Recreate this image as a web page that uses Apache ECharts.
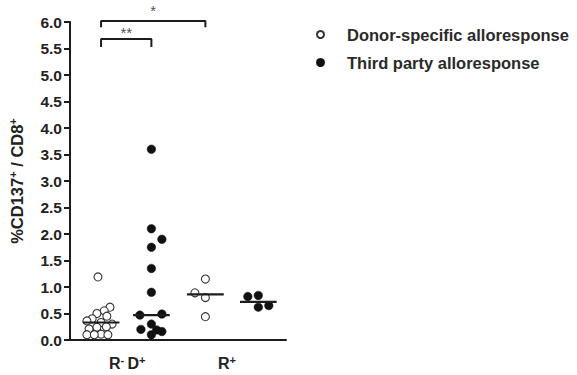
<!DOCTYPE html>
<html>
<head>
<meta charset="utf-8">
<style>
html,body{margin:0;padding:0;background:#fff;}
#chart{width:577px;height:375px;}
</style>
<script src="https://cdn.jsdelivr.net/npm/echarts@6/dist/echarts.min.js"></script>
</head>
<body>
<div id="chart"></div>
<script>
// ---- data ----
const seriesNames = ['Donor-specific alloresponse', 'Third party alloresponse'];
// group positions on the x axis (1 unit = spacing between groups)
const groupX = [1, 1.96, 2.99, 4];
// which series each group belongs to (0 = donor-specific, 1 = third party)
const groupSeries = [0, 1, 0, 1];
// values per group, with horizontal jitter offsets (in group units)
const g1Values = [1.19, 0.62, 0.55, 0.50, 0.45, 0.40, 0.36, 0.33, 0.30, 0.25, 0.24, 0.21, 0.11, 0.10, 0.10, 0.10];
const g1Jitter = [-0.06, 0.17, 0.06, -0.08, 0.11, -0.17, -0.27, 0, 0.21, 0.10, -0.08, -0.23, 0, -0.27, -0.13, 0.13];
const g2Values = [3.6, 2.1, 1.9, 1.75, 1.35, 0.9, 0.47, 0.49, 0.30, 0.20, 0.19, 0.16, 0.10];
const g2Jitter = [0, 0, 0.2, 0, 0, 0, -0.22, 0.2, 0, -0.2, 0.1, 0.2, 0];
const g3Values = [1.15, 0.89, 0.80, 0.44];
const g3Jitter = [0, -0.2, 0, 0];
const g4Values = [0.82, 0.84, 0.62, 0.65];
const g4Jitter = [-0.2, 0, 0, 0.2];
const medians = [0.33, 0.47, 0.86, 0.72];
const medianHalfWidth = 0.35;
// x axis group labels and their positions
const xLabelPos = [1.5, 3.4];
const xLabels = ['{b|R}{sup|-} {b|D}{sup|+}', '{b|R}{sup|+}'];
// y axis ticks
const yMin = 0, yMax = 6, yInterval = 0.5;
// significance brackets
const brackets = [
  {from: 0, to: 1, y: 5.68, leg: 0.15, text: '**', textY: 5.80},
  {from: 0, to: 2, y: 6.02, leg: 0.12, text: '*', textY: 6.22}
];

const groupValues = [g1Values, g2Values, g3Values, g4Values];
const groupJitter = [g1Jitter, g2Jitter, g3Jitter, g4Jitter];

const pointData = [[], []];
groupValues.forEach((vals, gi) => {
  vals.forEach((v, i) => {
    pointData[groupSeries[gi]].push([groupX[gi] + groupJitter[gi][i], v]);
  });
});

const ink = '#1c1c1c';
const series = [
  {
    name: seriesNames[0], type: 'scatter', symbol: 'circle', symbolSize: 8,
    itemStyle: {color: '#ffffff', borderColor: '#333', borderWidth: 1.1, opacity: 1},
    data: pointData[0], z: 3
  },
  {
    name: seriesNames[1], type: 'scatter', symbol: 'circle', symbolSize: 8.5,
    itemStyle: {color: '#111', borderColor: '#111', borderWidth: 0.5, opacity: 1},
    data: pointData[1], z: 3
  }
];
medians.forEach((m, gi) => {
  series.push({
    type: 'line', symbol: 'none', silent: true, z: 4,
    lineStyle: {color: ink, width: 2.2},
    data: [[groupX[gi] - medianHalfWidth, m], [groupX[gi] + medianHalfWidth, m]]
  });
});
brackets.forEach(b => {
  const x1 = groupX[b.from], x2 = groupX[b.to];
  series.push({
    type: 'line', symbol: 'none', silent: true, clip: false, z: 4,
    lineStyle: {color: ink, width: 2},
    data: [[x1, b.y - b.leg], [x1, b.y], [x2, b.y], [x2, b.y - b.leg]]
  });
  series.push({
    type: 'scatter', symbolSize: 0, silent: true, clip: false,
    label: {show: true, position: 'inside', formatter: b.text, color: '#222', fontSize: 15,
            fontFamily: 'Liberation Sans'},
    data: [[(x1 + x2) / 2, b.textY]]
  });
});

const chart = echarts.init(document.getElementById('chart'), null, {renderer: 'svg'});
chart.setOption({
  backgroundColor: '#ffffff',
  animation: false,
  textStyle: {fontFamily: 'Liberation Sans'},
  grid: {left: 70, right: 291, top: 22, bottom: 35},
  legend: {
    data: seriesNames, orient: 'vertical', left: 311, top: 21,
    itemWidth: 7, itemHeight: 7, itemGap: 11,
    textStyle: {fontSize: 16.5, fontWeight: 'bold', color: '#2a2a2a', fontFamily: 'Liberation Sans',
                padding: [0, 0, 0, 18]}
  },
  xAxis: {
    type: 'value', min: 0.407, max: 4.528,
    splitLine: {show: false},
    axisTick: {show: false},
    axisLine: {lineStyle: {color: ink, width: 2}},
    axisLabel: {
      customValues: xLabelPos, margin: 14,
      formatter: (v) => xLabels[xLabelPos.indexOf(v)] || '',
      rich: {
        b: {fontSize: 16, fontWeight: 'bold', color: '#222', lineHeight: 18, fontFamily: 'Liberation Sans'},
        sup: {fontSize: 11, fontWeight: 'bold', color: '#222', verticalAlign: 'top', lineHeight: 11, fontFamily: 'Liberation Sans'}
      }
    }
  },
  yAxis: {
    type: 'value', min: yMin, max: yMax, interval: yInterval,
    splitLine: {show: false},
    axisLine: {show: true, lineStyle: {color: ink, width: 2}},
    axisTick: {show: true, length: 6, lineStyle: {color: ink, width: 2}},
    axisLabel: {
      margin: 8, fontSize: 15.5, fontWeight: 'bold', color: '#222',
      formatter: (v) => v.toFixed(1)
    },
    name: '{b|%CD137}{sup|+}{b| / CD8}{sup|+}',
    nameLocation: 'middle', nameRotate: 90, nameGap: 44,
    nameTextStyle: {
      rich: {
        b: {fontSize: 16.5, fontWeight: 'bold', color: '#222', lineHeight: 19, fontFamily: 'Liberation Sans'},
        sup: {fontSize: 11, fontWeight: 'bold', color: '#222', verticalAlign: 'top', lineHeight: 11, fontFamily: 'Liberation Sans'}
      }
    }
  },
  series: series
});
</script>
</body>
</html>
